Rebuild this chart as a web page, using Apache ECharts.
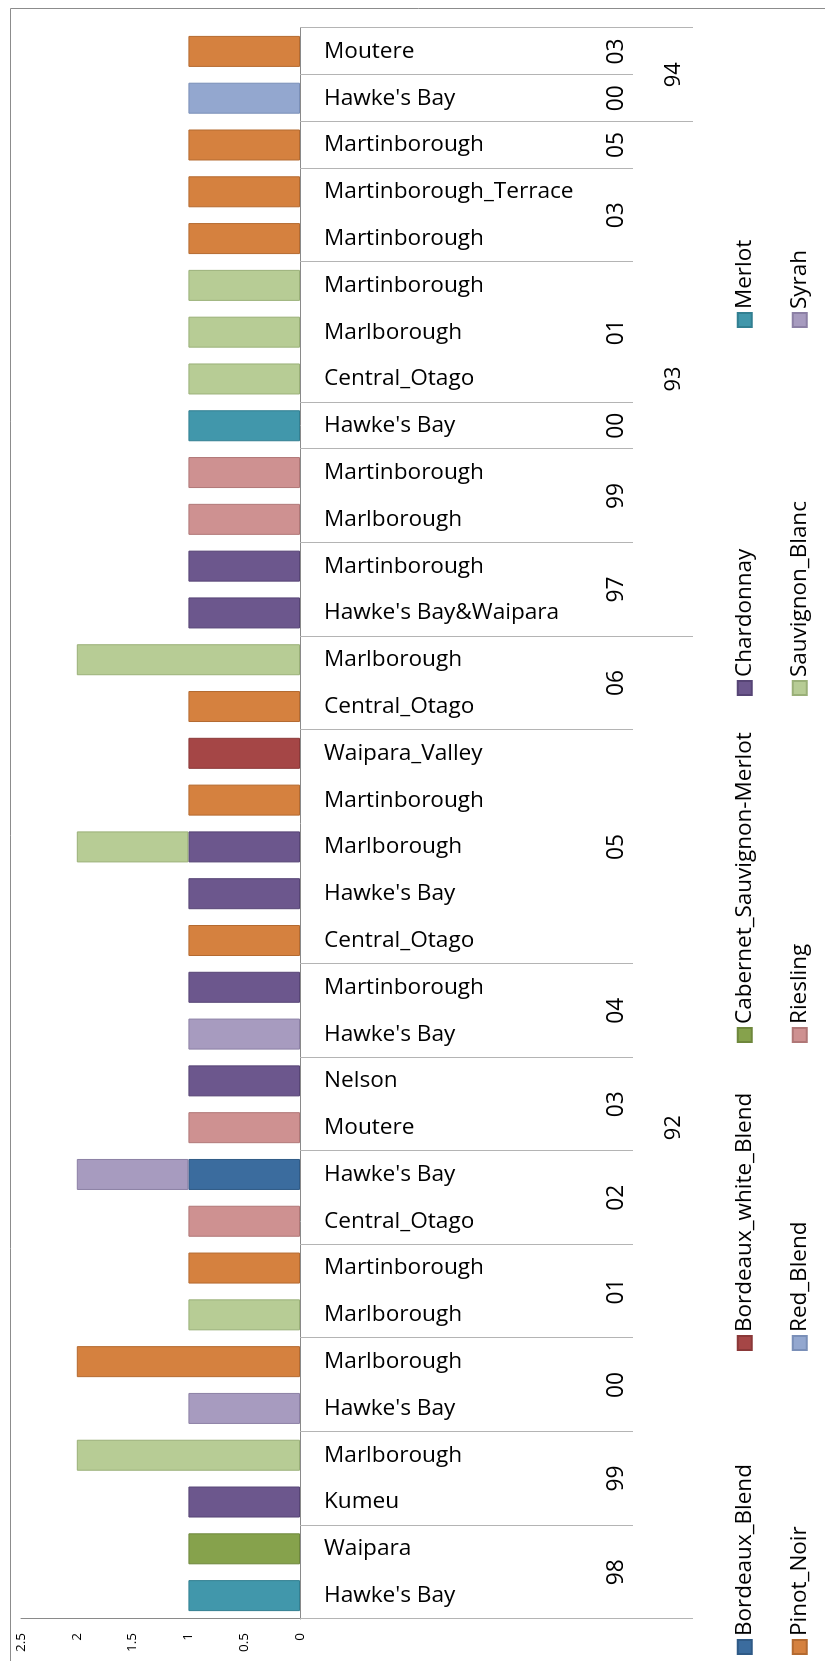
<!DOCTYPE html>
<html>
<head>
<meta charset="utf-8">
<title>NZ wines</title>
<script src="https://cdn.jsdelivr.net/npm/echarts@6/dist/echarts.min.js"></script>
<style>
html, body { margin: 0; padding: 0; background: #fff; overflow: hidden; }
/* the chart is laid out landscape, then turned a quarter turn to the left */
#chart {
    position: absolute; left: 0; top: 0;
    width: 1661px; height: 825px;
    transform-origin: 0 0;
    transform: translateY(1661px) rotate(-90deg);
}
</style>
</head>
<body>
<div id="chart"></div>
<script>
// categories, left to right in the unrotated chart
var regions = [
    "Hawke's Bay", 'Waipara', 'Kumeu', 'Marlborough', "Hawke's Bay", 'Marlborough',
    'Marlborough', 'Martinborough', 'Central_Otago', "Hawke's Bay", 'Moutere', 'Nelson',
    "Hawke's Bay", 'Martinborough', 'Central_Otago', "Hawke's Bay", 'Marlborough', 'Martinborough',
    'Waipara_Valley', 'Central_Otago', 'Marlborough',
    "Hawke's Bay&Waipara", 'Martinborough', 'Marlborough', 'Martinborough', "Hawke's Bay",
    'Central_Otago', 'Marlborough', 'Martinborough', 'Martinborough', 'Martinborough_Terrace', 'Martinborough',
    "Hawke's Bay", 'Moutere'
];
var years = [
    '98', '98', '99', '99', '00', '00', '01', '01', '02', '02', '03', '03', '04', '04',
    '05', '05', '05', '05', '05', '06', '06',
    '97', '97', '99', '99', '00', '01', '01', '01', '03', '03', '05',
    '00', '03'
];
var scores = [
    '92', '92', '92', '92', '92', '92', '92', '92', '92', '92', '92', '92', '92', '92',
    '92', '92', '92', '92', '92', '92', '92',
    '93', '93', '93', '93', '93', '93', '93', '93', '93', '93', '93',
    '94', '94'
];
var valueTicks = [0, 0.5, 1, 1.5, 2, 2.5];

var varieties = ['Bordeaux_Blend', 'Bordeaux_white_Blend', 'Cabernet_Sauvignon-Merlot', 'Chardonnay', 'Merlot',
                 'Pinot_Noir', 'Red_Blend', 'Riesling', 'Sauvignon_Blanc', 'Syrah'];

// one value per category (index 0..33)
var bordeauxBlend      = [0,0,0,0,0,0,0,0,0,1, 0,0,0,0,0,0,0,0,0,0, 0,0,0,0,0,0,0,0,0,0, 0,0,0,0];
var bordeauxWhiteBlend = [0,0,0,0,0,0,0,0,0,0, 0,0,0,0,0,0,0,0,1,0, 0,0,0,0,0,0,0,0,0,0, 0,0,0,0];
var cabSauvMerlot      = [0,1,0,0,0,0,0,0,0,0, 0,0,0,0,0,0,0,0,0,0, 0,0,0,0,0,0,0,0,0,0, 0,0,0,0];
var chardonnay         = [0,0,1,0,0,0,0,0,0,0, 0,1,0,1,0,1,1,0,0,0, 0,1,1,0,0,0,0,0,0,0, 0,0,0,0];
var merlot             = [1,0,0,0,0,0,0,0,0,0, 0,0,0,0,0,0,0,0,0,0, 0,0,0,0,0,1,0,0,0,0, 0,0,0,0];
var pinotNoir          = [0,0,0,0,0,2,0,1,0,0, 0,0,0,0,1,0,0,1,0,1, 0,0,0,0,0,0,0,0,0,1, 1,1,0,1];
var redBlend           = [0,0,0,0,0,0,0,0,0,0, 0,0,0,0,0,0,0,0,0,0, 0,0,0,0,0,0,0,0,0,0, 0,0,1,0];
var riesling           = [0,0,0,0,0,0,0,0,1,0, 1,0,0,0,0,0,0,0,0,0, 0,0,0,1,1,0,0,0,0,0, 0,0,0,0];
var sauvignonBlanc     = [0,0,0,2,0,0,1,0,0,0, 0,0,0,0,0,0,1,0,0,0, 2,0,0,0,0,0,1,1,1,0, 0,0,0,0];
var syrah              = [0,0,0,0,1,0,0,0,0,1, 0,0,1,0,0,0,0,0,0,0, 0,0,0,0,0,0,0,0,0,0, 0,0,0,0];

var values = [bordeauxBlend, bordeauxWhiteBlend, cabSauvMerlot, chardonnay, merlot,
              pinotNoir, redBlend, riesling, sauvignonBlanc, syrah];
var colors  = ['#3B6C9E', '#A54646', '#86A24C', '#6C578D', '#4197AB',
               '#D5813F', '#93A7CF', '#CE9191', '#B7CC95', '#A79BBF'];
var borders = ['#2F5A86', '#8A3838', '#6E873C', '#564475', '#327F91',
               '#B46A30', '#7A8FB8', '#B07777', '#9AB078', '#8C80A5'];

var FONT = 'Open Sans';
var ctx = document.createElement('canvas').getContext('2d');
// font size that gives a text the width it has in the picture
function fitSize(text, width) {
    ctx.font = '100px "' + FONT + '"';
    return 100 * width / ctx.measureText(text).width;
}
var regionSize = fitSize('Martinborough', 160);
var yearSize = fitSize('03', 26);
var scoreSize = fitSize('92', 25);
var legendSize = fitSize('Bordeaux_Blend', 172);
var valueSize = fitSize('2.5', 19);

// runs of equal keys -> boundaries and label centres
function groups(keys) {
    var bounds = [-0.5], labels = {}, start = 0;
    for (var i = 1; i <= keys.length; i++) {
        if (i === keys.length || keys[i] !== keys[start]) {
            bounds.push(i - 0.5);
            labels[String((start + i - 1) / 2)] = keys[start].split('|').pop();
            start = i;
        }
    }
    return { bounds: bounds, labels: labels };
}
var yearGroups = groups(years.map(function (y, i) { return scores[i] + '|' + y; }));
var scoreGroups = groups(scores);
var n = regions.length;

function labelAxis(g, tickLen, labelCenter, size) {
    return {
        type: 'value', position: 'bottom', min: -0.5, max: n - 0.5,
        axisLine: { show: false, onZero: false },
        splitLine: { show: false },
        axisTick: { show: true, customValues: g.bounds, length: tickLen, lineStyle: { color: '#B4B4B4', width: 1 } },
        axisLabel: {
            customValues: Object.keys(g.labels).map(Number),
            formatter: function (v) { return g.labels[String(v)] || ''; },
            margin: labelCenter, verticalAlign: 'middle',
            color: '#000', fontFamily: FONT, fontSize: size
        }
    };
}

var myChart = echarts.init(document.getElementById('chart'));
myChart.setOption({
    animation: false,
    backgroundColor: '#fff',
    grid: { left: 42, right: 28, top: 21, bottom: 525, containLabel: false },
    xAxis: [
        {
            type: 'category', data: regions, position: 'bottom',
            axisLine: { onZero: false, lineStyle: { color: '#8A8A8A', width: 1 } },
            axisTick: { show: false },
            axisLabel: { interval: 0, rotate: -90, margin: 24, color: '#000', fontFamily: FONT, fontSize: regionSize }
        },
        labelAxis(yearGroups, 333, 317, yearSize),
        labelAxis(scoreGroups, 393, 374, scoreSize)
    ],
    yAxis: {
        type: 'value', min: valueTicks[0], max: valueTicks[valueTicks.length - 1], interval: 0.5,
        axisLine: { show: true, onZero: false, lineStyle: { color: '#8A8A8A', width: 1 } },
        axisTick: { show: false },
        splitLine: { show: false },
        axisLabel: { margin: 14, color: '#000', fontFamily: FONT, fontSize: valueSize }
    },
    legend: varieties.map(function (name, i) {
        var colX = [6, 310, 618, 965, 1333];
        var rowY = [745, 800];
        return {
            data: [name], orient: 'horizontal', padding: 0, icon: 'rect',
            left: colX[i % 5], top: rowY[Math.floor(i / 5)] - legendSize / 2,
            itemWidth: 14, itemHeight: 14, itemGap: 0, selectedMode: false,
            textStyle: { color: '#000', fontFamily: FONT, fontSize: legendSize, padding: [0, 0, 0, -1] }
        };
    }),
    graphic: [{
        type: 'rect', silent: true,
        shape: { x: -10, y: 10.5, width: 1662.5, height: 900 },
        style: { fill: null, stroke: '#8C8C8C', lineWidth: 1 }
    }],
    series: varieties.map(function (name, i) {
        return {
            name: name, type: 'bar', stack: 'total', barWidth: 31,
            itemStyle: { color: colors[i], borderColor: borders[i], borderWidth: 1 },
            data: values[i].map(function (v) { return v || '-'; })
        };
    })
});
</script>
</body>
</html>
